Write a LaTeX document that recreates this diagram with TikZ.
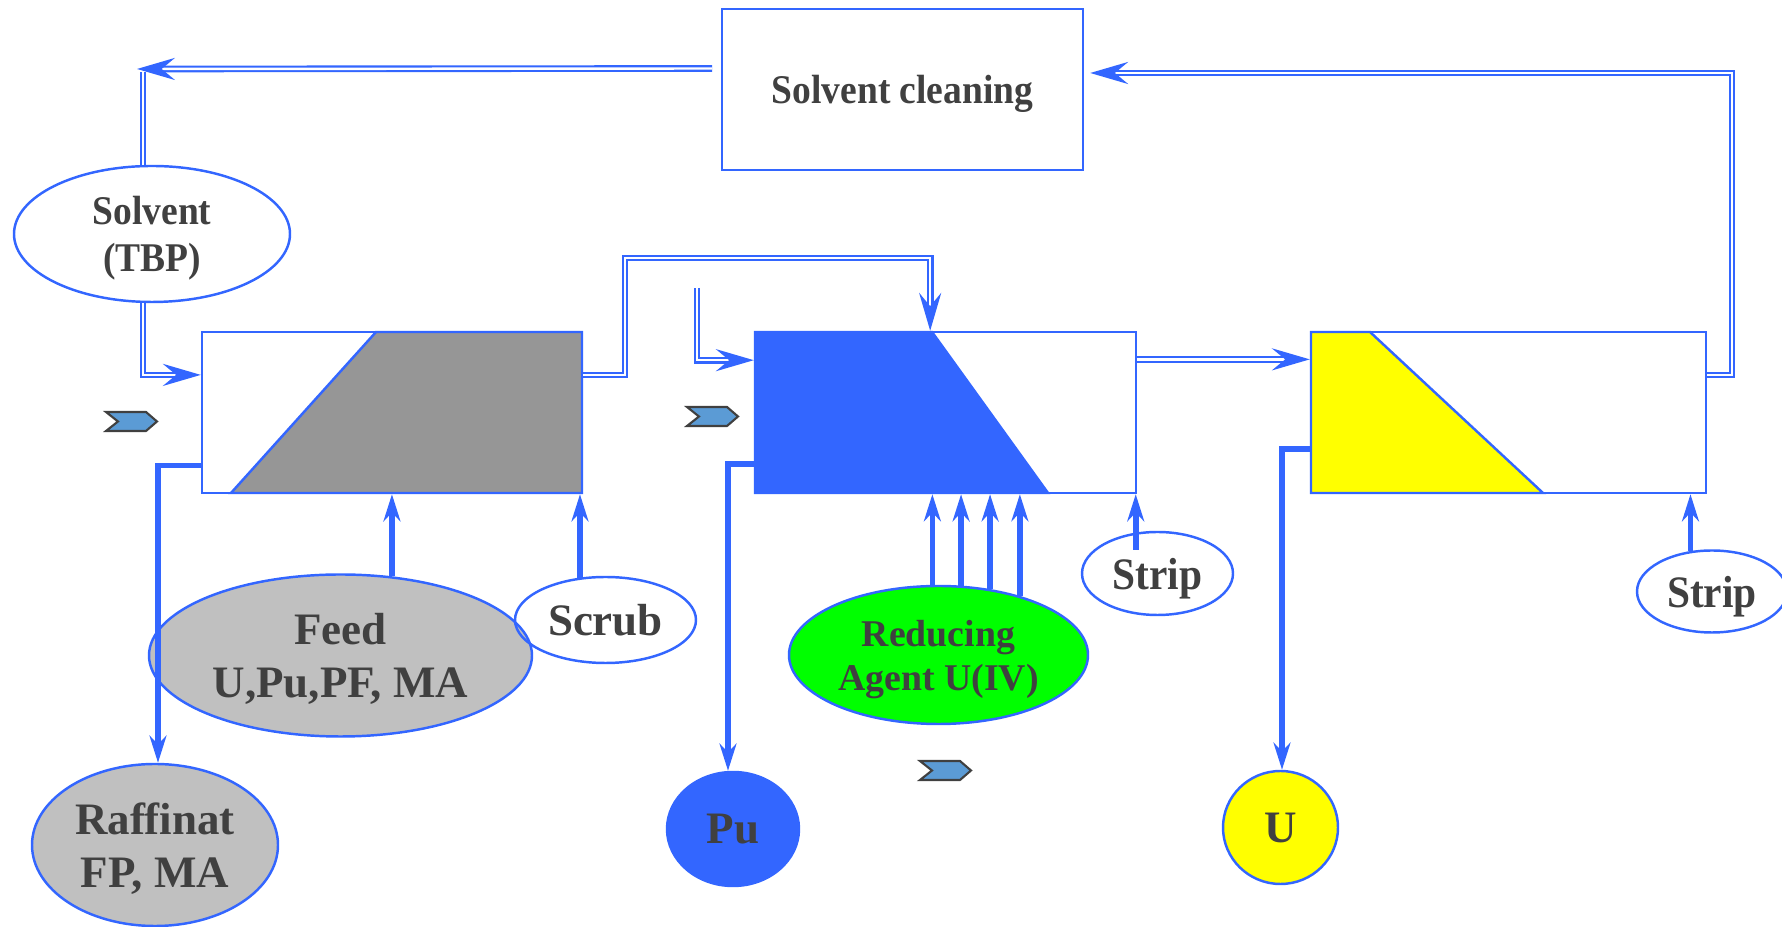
\documentclass[tikz,border=0pt]{standalone}
\usepackage{fontspec}
\setmainfont{Liberation Serif}
\newfontfamily\condf{Liberation Serif}[FakeStretch=0.92]
\usetikzlibrary{arrows.meta,shapes.geometric,calc}
\definecolor{myblue}{HTML}{3366FF}
\definecolor{txt}{HTML}{404040}
\definecolor{fillgray}{HTML}{C0C0C0}
\definecolor{trapgray}{HTML}{969696}
\definecolor{chevblue}{HTML}{5B9BD5}
\definecolor{brightgreen}{HTML}{00FF00}
\definecolor{yel}{HTML}{FFFF00}
\newcommand\mychev[1]{\filldraw[fill=chevblue, draw=txt, line width=0.6pt] (#1) -- ++(40,0) -- ++(11,9.5) -- ++(-11,9.5) -- ++(-40,0) -- ++(12,-9.5) -- cycle;}
\begin{document}
\begin{tikzpicture}[x=0.1mm, y=-0.1mm,
  box/.style={draw=myblue, line width=0.7pt, fill=white, minimum width=#1, minimum height=16.1mm, inner sep=0pt},
  ell/.style={ellipse, draw=myblue, line width=0.7pt, inner sep=0pt, align=center, text=txt},
  bigf/.style={font=\fontsize{12.8}{15.2}\selectfont\bfseries},
  solvf/.style={font=\condf\fontsize{11.6}{13.4}\selectfont\bfseries},
  stripf/.style={font=\condf\fontsize{12.8}{15.2}\selectfont\bfseries},
  redf/.style={font=\fontsize{10.75}{12.5}\selectfont\bfseries},
  dbl/.style={draw=myblue, double=white, line width=0.6pt, double distance=0.7pt},
  darr/.style={-{Stealth[length=10.8pt, width=6.3pt, inset=3.8pt]}},
  thk/.style={draw=myblue, line width=1.6pt},
  sarr/.style={-{Stealth[length=7.7pt, width=4.8pt, inset=2.5pt]}},
  trap/.style={draw=myblue, line width=0.7pt, line join=miter}
]
\useasboundingbox (0,0) rectangle (1782,927);

% boxes
\node[box=36.1mm, solvf, text=txt, text depth=-0.9pt] (clean) at (902.5,89.5) {Solvent cleaning};
\node[box=38mm] (box1) at (392,412.5) {};
\node[box=38.1mm] (box2) at (945.5,412.5) {};
\node[box=39.5mm] (box3) at (1508.5,412.5) {};

% phase shapes inside the boxes
\filldraw[trap, fill=trapgray] (376,332) -- (582,332) -- (582,493) -- (231,493) -- cycle;
\filldraw[trap, fill=myblue] (755,332) -- (932,332) -- (1048,493) -- (755,493) -- cycle;
\filldraw[trap, fill=yel] (1311,332) -- (1370,332) -- (1543,493) -- (1311,493) -- cycle;

% ellipses
\node[ell, solvf, text depth=-1.2pt, minimum width=27.6mm, minimum height=13.6mm] (solvent) at (152,234) {Solvent\\(TBP)};
\node[ell, bigf, text depth=-2.0pt, fill=fillgray, minimum width=38.3mm, minimum height=16.2mm] (feed) at (340.5,655.5) {Feed\\U,Pu,PF, MA};
\node[ell, bigf, text depth=-2.6pt, minimum width=18.1mm, minimum height=8.6mm] (scrub) at (605.5,620) {Scrub};
\node[ell, bigf, text depth=-2.6pt, fill=fillgray, minimum width=24.6mm, minimum height=16.2mm] (raff) at (155,845) {Raffinat\\FP, MA};
\node[ell, redf, text depth=-4.6pt, fill=brightgreen, minimum width=29.9mm, minimum height=13.8mm] (redu) at (938.5,655) {Reducing\\Agent U(IV)};
\node[ell, stripf, text depth=-2.5pt, minimum width=15.1mm, minimum height=8.3mm] (strip1) at (1157.5,573.5) {Strip};
\node[ell, bigf, text depth=-2.4pt, fill=myblue, minimum width=13.2mm, minimum height=11.4mm] (pu) at (733,829) {Pu};
\node[ell, bigf, text depth=-3.6pt, fill=yel, minimum width=11.5mm, minimum height=11.3mm] (u) at (1280.5,827.5) {U};
\node[ell, stripf, text depth=-2.5pt, minimum width=15mm, minimum height=8.2mm] (strip2) at (1712,591.5) {Strip};

% chevrons
\mychev{106,412}
\mychev{687,407}
\mychev{920,761}

% coordinates
\coordinate (cs) at (712,68.5);
\coordinate (tl) at (137,69);
\coordinate (tlv) at (143,72);
\coordinate (j1) at (625,258);
\coordinate (fe) at (697,288);
\coordinate (j2) at (1732,73);
\coordinate (ce) at ($(clean.east)+(6,-16.5)$);
\coordinate (b1in) at ($(box1.north west)!0.27!(box1.south west)$);
\coordinate (b1out) at ($(box1.north east)!0.27!(box1.south east)$);
\coordinate (b2top) at ($(box2.north west)!0.46!(box2.north east)$);
\coordinate (b2in) at ($(box2.north west)!0.18!(box2.south west)$);
\coordinate (b2out) at ($(box2.north east)!0.175!(box2.south east)$);
\coordinate (b3in) at ($(box3.north west)!0.175!(box3.south west)$);
\coordinate (b3out) at ($(box3.north east)!0.27!(box3.south east)$);
\coordinate (b1low) at ($(box1.north west)!0.825!(box1.south west)$);
\coordinate (b2low) at ($(box2.north west)!0.815!(box2.south west)$);
\coordinate (b3low) at ($(box3.north west)!0.725!(box3.south west)$);
\coordinate (r1) at (158,0);
\coordinate (p1) at (728,0);
\coordinate (u1) at (1282,0);

% double (solvent) lines
\draw[dbl] (tlv |- solvent.north) -- (tlv);
\draw[dbl, darr] (cs) -- (tl);
\draw[dbl, darr] (tlv |- solvent.south) |- (b1in);
\draw[dbl, darr] (b1out) -| (j1) -| (b2top);
\draw[dbl, darr] (fe) |- (b2in);
\draw[dbl, darr] (b2out) -- (b3in);
\draw[dbl, darr] (b3out) -| (j2) -- (ce);

% thick aqueous lines
\draw[thk, sarr] (feed.57) -- (feed.57 |- box1.south);
\draw[thk, sarr] (scrub.121) -- (scrub.121 |- box1.south);
\draw[thk, sarr] (b1low) -| (r1 |- raff.north);
\draw[thk, sarr] (b2low) -| (p1 |- pu.north);
\draw[thk, sarr] (b3low) -| (u1 |- u.north);
\draw[thk, sarr] (redu.95) -- (redu.95 |- box2.south);
\draw[thk, sarr] (redu.72) -- (redu.72 |- box2.south);
\draw[thk, sarr] (redu.52) -- (redu.52 |- box2.south);
\draw[thk, sarr] (redu.36) -- (redu.36 |- box2.south);
\draw[thk, sarr] ([yshift=-1.7mm]strip1.118) -- (strip1.118 |- box2.south);
\draw[thk, sarr] (strip2.118) -- (strip2.118 |- box3.south);
\end{tikzpicture}
\end{document}
